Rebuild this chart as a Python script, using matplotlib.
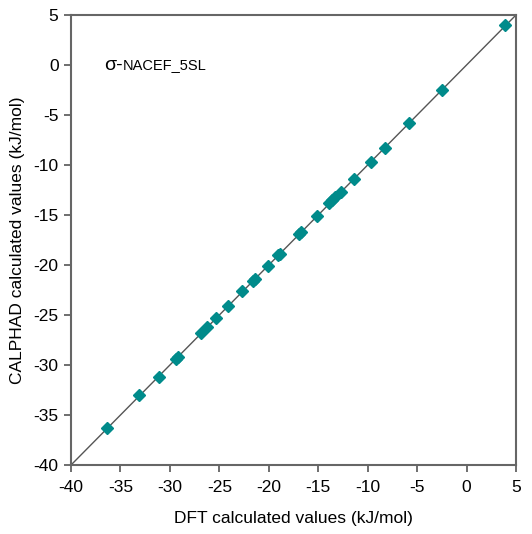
import matplotlib
matplotlib.use('Agg')
import matplotlib.pyplot as plt
import numpy as np

plt.rcParams['font.family'] = ['Liberation Sans', 'DejaVu Sans']
plt.rcParams['axes.unicode_minus'] = False

# DFT vs CALPHAD formation energies (kJ/mol)
dft = [-36.4, -33.1, -31.1, -29.4, -29.2, -26.9, -26.2, -25.3, -24.1, -22.7,
       -21.6, -21.4, -20.1, -19.1, -18.9, -16.9, -16.7, -15.1, -13.9, -13.6,
       -13.3, -12.7, -11.4, -9.7, -8.3, -5.8, -2.5, 3.9]
calphad = [-36.3, -33.0, -31.2, -29.4, -29.2, -26.8, -26.2, -25.3, -24.1, -22.6,
           -21.6, -21.4, -20.1, -19.0, -18.9, -16.9, -16.7, -15.1, -13.8, -13.5,
           -13.2, -12.7, -11.4, -9.7, -8.3, -5.8, -2.5, 4.0]
lims = [-40, 5]
ticks = list(range(-40, 6, 5))

fig = plt.figure(figsize=(5.32, 5.34), dpi=100)
ax = fig.add_axes([0.1335, 0.1292, 0.8365, 0.8428])

ax.plot(lims, lims, color='#555555', lw=1.0, zorder=1)
ax.plot(dft, calphad, ls='none', marker='D', ms=6, color='#008B8B',
        mec='#008B8B', zorder=2)

ax.set_xlim(lims)
ax.set_ylim(lims)
ax.set_xticks(ticks)
ax.set_yticks(ticks)
ax.tick_params(direction='out', length=5, width=1.2, color='#555555',
               labelsize=12.5, pad=4, top=False, right=False)
ax.tick_params(axis='x', pad=6)
for s in ax.spines.values():
    s.set_color('#666666')
    s.set_linewidth(1.5)

ax.set_xlabel('DFT calculated values (kJ/mol)', fontsize=12.5, labelpad=11)
ax.set_ylabel('CALPHAD calculated values (kJ/mol)', fontsize=12.5, labelpad=6)

t1 = ax.text(-36.7, -0.5, 'σ-', fontsize=14, va='baseline')
ax.annotate('NACEF_5SL', xy=(1, 0), xycoords=t1, fontsize=10.5,
            va='bottom', ha='left', xytext=(0, 1.5), textcoords='offset points')

fig.savefig('out.png', dpi=100)
